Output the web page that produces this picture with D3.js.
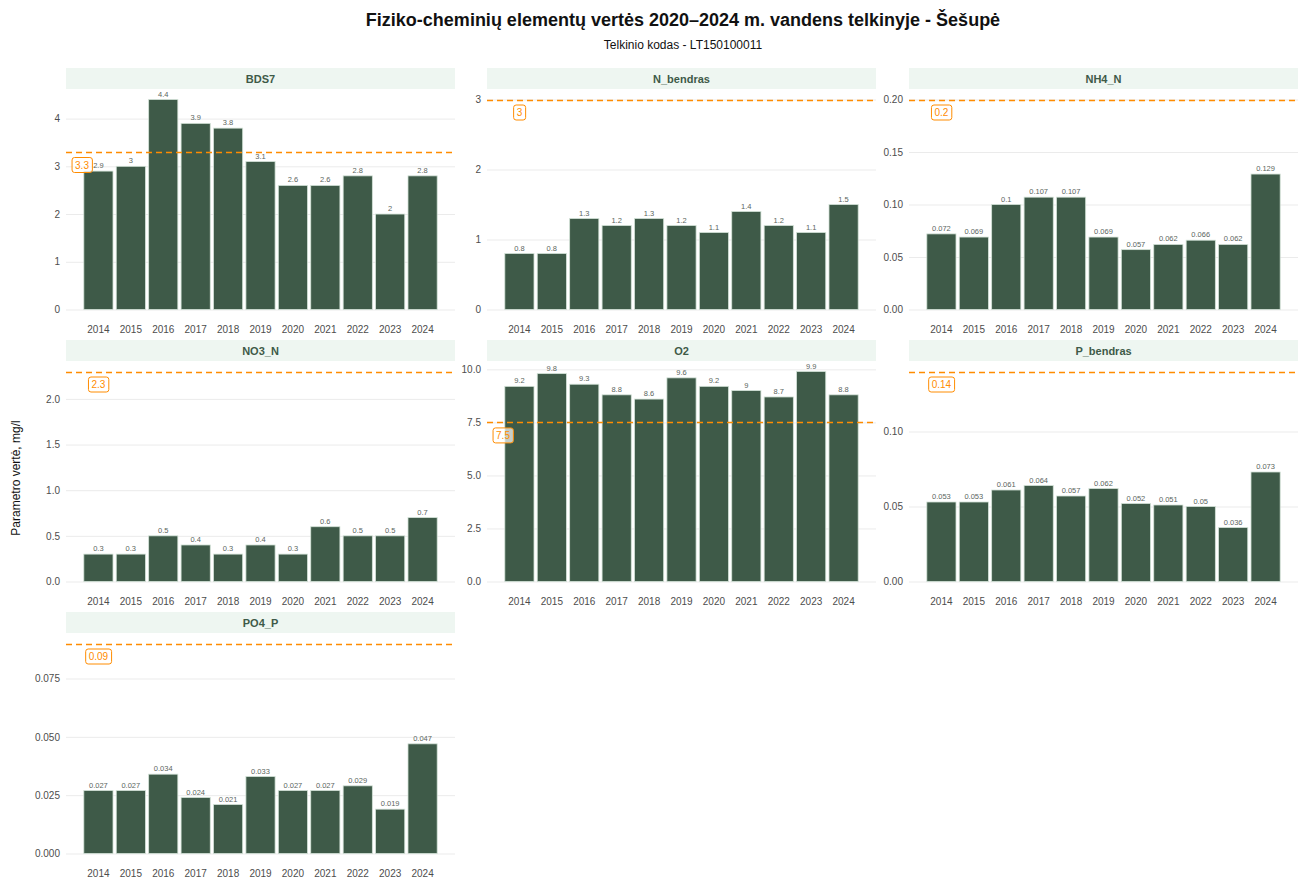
<!DOCTYPE html>
<html>
<head>
<meta charset="utf-8">
<script src="https://cdn.jsdelivr.net/npm/d3@7"></script>
<style>
  body { margin: 0; background: #fff; }
  svg { font-family: "Liberation Sans", Arial, sans-serif; display: block; }
</style>
</head>
<body>
<div class="graphContainer"></div>
<script>
const w = 1298;
const h = 879;

// data
const years = ["2014", "2015", "2016", "2017", "2018", "2019", "2020", "2021", "2022", "2023", "2024"];
const params = ["BDS7", "N_bendras", "NH4_N", "NO3_N", "O2", "P_bendras", "PO4_P"];

const bds7 = [2.9, 3, 4.4, 3.9, 3.8, 3.1, 2.6, 2.6, 2.8, 2, 2.8];
const nBendras = [0.8, 0.8, 1.3, 1.2, 1.3, 1.2, 1.1, 1.4, 1.2, 1.1, 1.5];
const nh4n = [0.072, 0.069, 0.1, 0.107, 0.107, 0.069, 0.057, 0.062, 0.066, 0.062, 0.129];
const no3n = [0.3, 0.3, 0.5, 0.4, 0.3, 0.4, 0.3, 0.6, 0.5, 0.5, 0.7];
const o2 = [9.2, 9.8, 9.3, 8.8, 8.6, 9.6, 9.2, 9, 8.7, 9.9, 8.8];
const pBendras = [0.053, 0.053, 0.061, 0.064, 0.057, 0.062, 0.052, 0.051, 0.05, 0.036, 0.073];
const po4p = [0.027, 0.027, 0.034, 0.024, 0.021, 0.033, 0.027, 0.027, 0.029, 0.019, 0.047];
const seriesValues = [bds7, nBendras, nh4n, no3n, o2, pBendras, po4p];

const thresholds = [3.3, 3, 0.2, 2.3, 7.5, 0.14, 0.09];

// y tick values and decimals for tick labels
const yTicks = [
  [0, 1, 2, 3, 4],
  [0, 1, 2, 3],
  [0, 0.05, 0.1, 0.15, 0.2],
  [0, 0.5, 1, 1.5, 2],
  [0, 2.5, 5, 7.5, 10],
  [0, 0.05, 0.1],
  [0, 0.025, 0.05, 0.075]
];
const tickDecimals = [0, 0, 2, 1, 1, 2, 3];

const barFill = "#3e5a48";
const orange = "#ff8c00";

// layout of the facet grid
const colX = [66, 487, 909];
const panelW = 389;
const rowY = [68, 340, 612];
const stripH = 21;
const panelH = 231;

const svg = d3.select(".graphContainer").append("svg")
  .attr("width", w)
  .attr("height", h);

// title + subtitle
svg.append("text")
  .attr("x", 683).attr("y", 26)
  .attr("text-anchor", "middle")
  .attr("font-size", "18px").attr("font-weight", "bold")
  .attr("fill", "#111")
  .text("Fiziko-cheminių elementų vertės 2020–2024 m. vandens telkinyje - Šešupė");

svg.append("text")
  .attr("x", 683).attr("y", 49)
  .attr("text-anchor", "middle")
  .attr("font-size", "12px")
  .attr("fill", "#111")
  .text("Telkinio kodas - LT150100011");

// y axis title
svg.append("text")
  .attr("transform", "translate(20,478) rotate(-90)")
  .attr("text-anchor", "middle")
  .attr("font-size", "12px")
  .attr("fill", "#111")
  .text("Parametro vertė, mg/l");

params.forEach((name, i) => {
  const col = i % 3;
  const row = Math.floor(i / 3);
  const x0 = colX[col];
  const top = rowY[row];
  const pTop = top + stripH;
  const pBot = pTop + panelH;
  const vals = seriesValues[i];
  const thr = thresholds[i];

  const g = svg.append("g").attr("class", "panel");

  // strip
  g.append("rect")
    .attr("x", x0).attr("y", top)
    .attr("width", panelW).attr("height", stripH)
    .attr("fill", "#eef6f1");
  g.append("text")
    .attr("x", x0 + panelW / 2).attr("y", top + stripH / 2 + 4)
    .attr("text-anchor", "middle")
    .attr("font-size", "11px").attr("font-weight", "bold")
    .attr("fill", "#3e5a48")
    .text(name);

  // scales
  const maxV = Math.max(d3.max(vals), thr);
  const y = d3.scaleLinear()
    .domain([-0.05 * maxV, 1.05 * maxV])
    .range([pBot, pTop]);

  const x = d3.scaleBand()
    .domain(years)
    .range([x0, x0 + panelW])
    .paddingInner(0.1)
    .paddingOuter(0.55);

  // gridlines + y labels
  const fmt = d3.format("." + tickDecimals[i] + "f");
  const yAxis = d3.axisLeft(y)
    .tickValues(yTicks[i])
    .tickSize(-panelW)
    .tickPadding(6)
    .tickFormat(fmt);
  const ya = g.append("g")
    .attr("transform", `translate(${x0},0)`)
    .call(yAxis);
  ya.select(".domain").remove();
  ya.selectAll(".tick line").attr("stroke", "#ebebeb").attr("stroke-width", 1);
  ya.selectAll(".tick text")
    .attr("font-size", "10px")
    .attr("fill", "#4d4d4d")
    .attr("font-family", "\"Liberation Sans\", Arial, sans-serif");

  // x labels
  const xAxis = d3.axisBottom(x).tickSize(0).tickPadding(6);
  const xa = g.append("g")
    .attr("transform", `translate(0,${pBot})`)
    .call(xAxis);
  xa.select(".domain").remove();
  xa.selectAll(".tick text")
    .attr("font-size", "10px")
    .attr("fill", "#4d4d4d")
    .attr("font-family", "\"Liberation Sans\", Arial, sans-serif");

  // bars
  g.selectAll("rect.bar")
    .data(vals)
    .enter()
    .append("rect")
    .attr("class", "bar")
    .attr("x", (d, j) => x(years[j]))
    .attr("y", d => y(d))
    .attr("width", x.bandwidth())
    .attr("height", d => y(0) - y(d))
    .attr("fill", barFill)
    .attr("stroke", "#d3e2d7")
    .attr("stroke-width", 0.8);

  // value labels
  g.selectAll("text.val")
    .data(vals)
    .enter()
    .append("text")
    .attr("class", "val")
    .attr("x", (d, j) => x(years[j]) + x.bandwidth() / 2)
    .attr("y", d => y(d) - 3)
    .attr("text-anchor", "middle")
    .attr("font-size", "7.5px")
    .attr("fill", "#5b6660")
    .text(d => d);

  // threshold line (snapped to pixel so it stays orange)
  const ty = Math.round(y(thr)) + 0.5;
  g.append("line")
    .attr("x1", x0).attr("x2", x0 + panelW)
    .attr("y1", ty).attr("y2", ty)
    .attr("stroke", orange)
    .attr("stroke-width", 1.3)
    .attr("stroke-dasharray", "6,4");

  // threshold label, moved left if it would sit on the first bar
  const ly = y(thr) + 13;
  let lx = x(years[0]) + x.bandwidth() / 2;
  if (y(vals[0]) - 10 < ly + 8) lx = x0 + 16;

  const lab = g.append("g").attr("transform", `translate(${lx},${ly})`);
  const t = lab.append("text")
    .attr("text-anchor", "middle")
    .attr("dy", "0.35em")
    .attr("font-size", "10px")
    .attr("fill", orange)
    .text(thr);
  const bb = t.node().getBBox();
  lab.insert("rect", "text")
    .attr("x", bb.x - 3).attr("y", -7.5)
    .attr("width", bb.width + 6).attr("height", 15)
    .attr("rx", 2.5)
    .attr("fill", "#ffffff").attr("fill-opacity", 0.7)
    .attr("stroke", orange).attr("stroke-width", 1);
});
</script>
</body>
</html>
